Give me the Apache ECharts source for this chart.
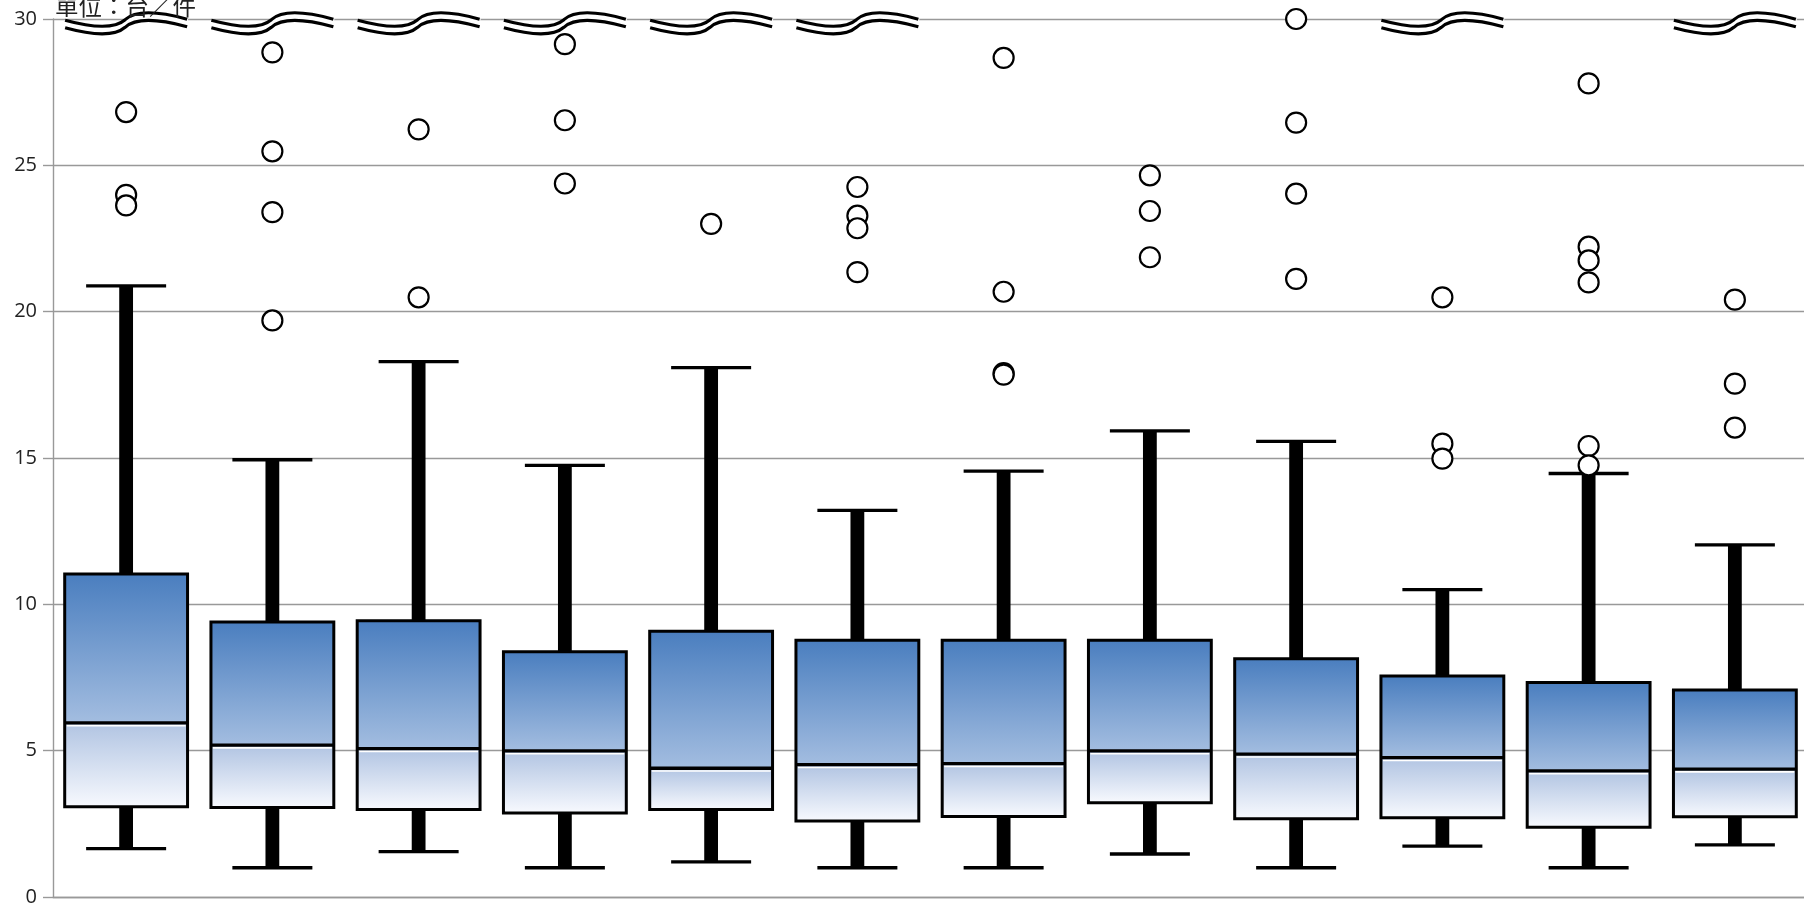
<!DOCTYPE html>
<html><head><meta charset="utf-8">
<script src="https://cdn.jsdelivr.net/npm/echarts@6/dist/echarts.min.js"></script>
<style>html,body{margin:0;padding:0;background:#fff;overflow:hidden}#c{width:1804px;height:910px}</style>
</head><body><div id="c"></div>
<script>
const categories = ['1','2','3','4','5','6','7','8','9','10','11','12'];
const lowWhisker  = [1.65, 1.00, 1.55, 1.00, 1.20, 1.00, 1.00, 1.47, 1.00, 1.74, 1.00, 1.78];
const q1          = [3.08, 3.06, 2.99, 2.87, 2.99, 2.60, 2.75, 3.22, 2.67, 2.71, 2.38, 2.74];
const median      = [5.95, 5.19, 5.07, 4.99, 4.40, 4.52, 4.56, 4.99, 4.88, 4.76, 4.31, 4.37];
const q3          = [11.04, 9.40, 9.44, 8.38, 9.08, 8.77, 8.77, 8.77, 8.14, 7.55, 7.33, 7.07];
const highWhisker = [20.88, 14.94, 18.29, 14.75, 18.09, 13.21, 14.55, 15.93, 15.57, 10.50, 14.47, 12.03];
const outliers = [
  [26.82, 23.99, 23.63],
  [28.86, 25.48, 23.40, 19.70],
  [26.23, 20.49],
  [29.14, 26.54, 24.38],
  [23.00],
  [24.26, 23.28, 22.85, 21.35],
  [28.67, 20.68, 17.90, 17.85],
  [24.66, 23.44, 21.86],
  [30.00, 26.46, 24.03, 21.12],
  [20.49, 15.49, 14.98],
  [27.80, 22.22, 21.75, 21.00, 15.41, 14.75],
  [20.41, 17.54, 16.04]
];
// categories whose data run beyond the axis top (break marks)
const breakCategories = [0, 1, 2, 3, 4, 5, 9, 11];
const yTicks = [0, 5, 10, 15, 20, 25, 30];
const unitLabel = '單位：台／件';

const boxData = categories.map((c, i) => [i, lowWhisker[i], q1[i], median[i], q3[i], highWhisker[i]]);
const outlierData = [];
outliers.forEach((arr, i) => arr.forEach(v => outlierData.push([i, v])));
const breakData = breakCategories.map(i => [i, yTicks[yTicks.length - 1]]);

const chart = echarts.init(document.getElementById('c'));

function renderBox(params, api) {
  const i = api.value(0);
  const xc = api.coord([i, 0])[0];
  const band = api.size([1, 0])[0];
  const bw = band * 0.84, half = bw / 2;
  const yLow = api.coord([i, api.value(1)])[1];
  const yQ1 = api.coord([i, api.value(2)])[1];
  const yMed = api.coord([i, api.value(3)])[1];
  const yQ3 = api.coord([i, api.value(4)])[1];
  const yHigh = api.coord([i, api.value(5)])[1];
  const ww = 13.8, cap = 40;
  return {
    type: 'group',
    children: [
      {type: 'rect', shape: {x: xc - ww / 2, y: yHigh, width: ww, height: yQ3 - yHigh}, style: {fill: '#000'}},
      {type: 'rect', shape: {x: xc - ww / 2, y: yQ1, width: ww, height: yLow - yQ1}, style: {fill: '#000'}},
      {type: 'line', shape: {x1: xc - cap, y1: yHigh, x2: xc + cap, y2: yHigh}, style: {stroke: '#000', lineWidth: 3.3}},
      {type: 'line', shape: {x1: xc - cap, y1: yLow, x2: xc + cap, y2: yLow}, style: {stroke: '#000', lineWidth: 3.3}},
      {type: 'rect', shape: {x: xc - half, y: yQ3, width: bw, height: yMed - yQ3},
        style: {fill: new echarts.graphic.LinearGradient(0, 0, 0, 1, [{offset: 0, color: '#4a7ebf'}, {offset: 1, color: '#a3bde0'}])}},
      {type: 'rect', shape: {x: xc - half, y: yMed, width: bw, height: yQ1 - yMed},
        style: {fill: new echarts.graphic.LinearGradient(0, 0, 0, 1, [{offset: 0, color: '#b1c4e2'}, {offset: 1, color: '#f7f9fe'}])}},
      {type: 'line', shape: {x1: xc - half + 2, y1: yMed + 2.8, x2: xc + half - 2, y2: yMed + 2.8}, style: {stroke: '#fff', lineWidth: 1.6}},
      {type: 'line', shape: {x1: xc - half, y1: yMed, x2: xc + half, y2: yMed}, style: {stroke: '#000', lineWidth: 3.3}},
      {type: 'rect', shape: {x: xc - half, y: yQ3, width: bw, height: yQ1 - yQ3}, style: {fill: null, stroke: '#000', lineWidth: 3}}
    ]
  };
}

function renderBreak(params, api) {
  const p = api.coord([api.value(0), api.value(1)]);
  const L = p[0] - 61, c = p[1] + 4.5;
  function wave(off, stroke, lw) {
    const y = c + off;
    const d = 'M' + L + ' ' + (y + 0.5) +
      ' C' + (L + 30) + ' ' + (y + 8.7) + ' ' + (L + 50) + ' ' + (y + 8.7) + ' ' + (L + 60) + ' ' + y +
      ' C' + (L + 70) + ' ' + (y - 9.3) + ' ' + (L + 90) + ' ' + (y - 9.3) + ' ' + (L + 122) + ' ' + (y - 0.5);
    return {type: 'path', shape: {pathData: d}, style: {stroke: stroke, lineWidth: lw, fill: null}};
  }
  return {type: 'group', children: [
    wave(0, '#fff', 9),
    wave(-3.8, '#000', 3.2),
    wave(3.8, '#000', 3.2)
  ]};
}

chart.setOption({
  animation: false,
  backgroundColor: '#fff',
  grid: {left: 53, right: -4, top: 19, bottom: 13, containLabel: false, outerBoundsMode: 'none'},
  xAxis: {
    type: 'category', data: categories,
    axisLine: {show: true, lineStyle: {color: '#999', width: 1.4}},
    axisTick: {show: false}, axisLabel: {show: false}, splitLine: {show: false}
  },
  yAxis: {
    type: 'value', min: yTicks[0], max: yTicks[yTicks.length - 1], interval: 5,
    axisLine: {show: true, lineStyle: {color: '#999', width: 1.4}},
    axisTick: {show: true, length: 10, lineStyle: {color: '#999', width: 1.4}},
    axisLabel: {margin: 16, fontSize: 20, color: '#222', fontFamily: 'Open Sans'},
    splitLine: {show: true, lineStyle: {color: '#999', width: 1.3}}
  },
  graphic: [{type: 'text', left: 55, top: -6, z: 100,
    style: {text: unitLabel, font: '23.5px "Noto Sans CJK TC"', fill: '#222'}}],
  series: [
    {type: 'custom', renderItem: renderBox, data: boxData, encode: {x: 0, y: [1, 2, 3, 4, 5]}, z: 2, clip: false},
    {type: 'scatter', data: outlierData, symbol: 'circle', symbolSize: 20, clip: false, z: 3,
      itemStyle: {color: '#fff', borderColor: '#000', borderWidth: 2.2, opacity: 1}},
    {type: 'custom', renderItem: renderBreak, data: breakData, encode: {x: 0, y: 1}, z: 4, clip: false}
  ]
});
</script>
</body></html>
